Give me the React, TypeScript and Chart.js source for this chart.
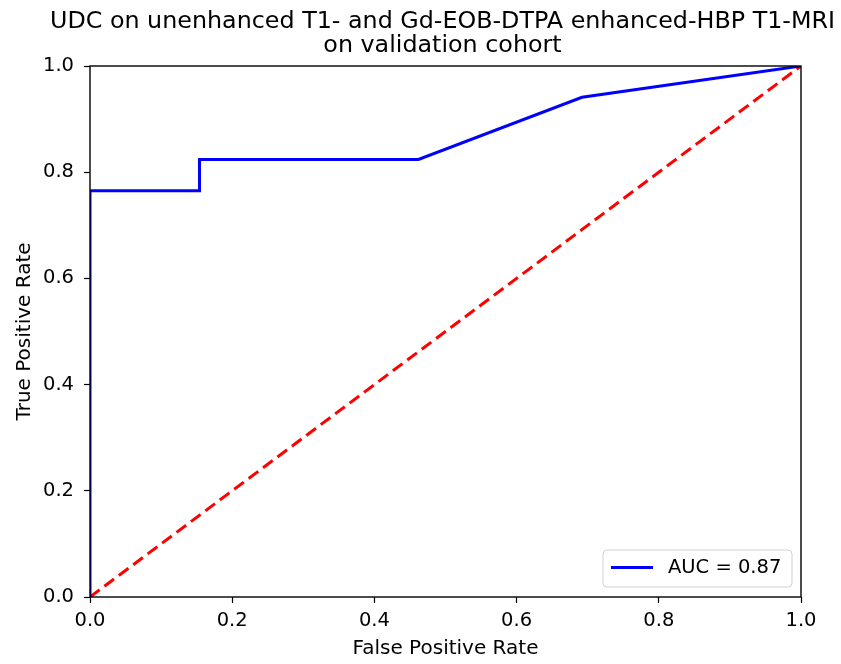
import React, { useEffect, useRef } from "react";
import { Chart, registerables } from "chart.js";

Chart.register(...registerables);

const rocFpr = [0, 0, 0.154, 0.154, 0.462, 0.692, 1.0];
const rocTpr = [0, 0.765, 0.765, 0.824, 0.824, 0.941, 1.0];
const chanceFpr = [0, 1];
const chanceTpr = [0, 1];
const tickValues = [0, 0.2, 0.4, 0.6, 0.8, 1.0];
const titleLines = ["UDC on unenhanced T1- and Gd-EOB-DTPA enhanced-HBP T1-MRI", "on validation cohort"];
const rocLabel = "AUC = 0.87";
const xTitle = "False Positive Rate";
const yTitle = "True Positive Rate";

const FONT = "'DejaVu Sans', sans-serif";

const framePlugin = {
  id: "frame",
  afterDatasetsDraw(chart: any) {
    const { ctx, chartArea: a } = chart;
    ctx.save();
    ctx.strokeStyle = "#000";
    ctx.lineWidth = 1.4;
    ctx.strokeRect(a.left, a.top, a.right - a.left, a.bottom - a.top);
    // title, centred over the plot area
    ctx.fillStyle = "#000";
    ctx.font = `23.8px ${FONT}`;
    ctx.textAlign = "center";
    ctx.textBaseline = "alphabetic";
    const cx = (a.left + a.right) / 2 - 3;
    ctx.fillText(titleLines[0], cx, 27.5);
    ctx.fillText(titleLines[1], cx, 52);
    // legend
    const ds = chart.data.datasets[0];
    const bx = 603, by = 550, bw = 189, bh = 37, r = 4;
    ctx.beginPath();
    ctx.moveTo(bx + r, by);
    ctx.lineTo(bx + bw - r, by);
    ctx.quadraticCurveTo(bx + bw, by, bx + bw, by + r);
    ctx.lineTo(bx + bw, by + bh - r);
    ctx.quadraticCurveTo(bx + bw, by + bh, bx + bw - r, by + bh);
    ctx.lineTo(bx + r, by + bh);
    ctx.quadraticCurveTo(bx, by + bh, bx, by + bh - r);
    ctx.lineTo(bx, by + r);
    ctx.quadraticCurveTo(bx, by, bx + r, by);
    ctx.closePath();
    ctx.fillStyle = "rgba(255,255,255,0.8)";
    ctx.fill();
    ctx.strokeStyle = "#d0d0d0";
    ctx.lineWidth = 1;
    ctx.stroke();
    ctx.beginPath();
    ctx.strokeStyle = ds.borderColor;
    ctx.lineWidth = ds.borderWidth;
    ctx.moveTo(611, 567.5);
    ctx.lineTo(653, 567.5);
    ctx.stroke();
    ctx.fillStyle = "#000";
    ctx.font = `19.5px ${FONT}`;
    ctx.textBaseline = "middle";
    ctx.textAlign = "left";
    ctx.fillText(ds.label, 668, 568);
    ctx.restore();
  },
};

export default function App() {
  const ref = useRef<HTMLCanvasElement>(null);
  useEffect(() => {
    document.body.style.margin = "0";
    const chart = new Chart(ref.current!, {
      type: "line",
      data: {
        datasets: [
          {
            label: rocLabel,
            data: rocFpr.map((x, i) => ({ x, y: rocTpr[i] })),
            borderColor: "#0000ff",
            borderWidth: 3,
            pointRadius: 0,
            fill: false,
            tension: 0,
          },
          {
            label: "chance",
            data: chanceFpr.map((x, i) => ({ x, y: chanceTpr[i] })),
            borderColor: "#ff0000",
            borderWidth: 3,
            borderDash: [12, 6],
            pointRadius: 0,
            fill: false,
          },
        ],
      },
      options: {
        responsive: false,
        animation: false,
        layout: { padding: { left: 0, right: 40, top: 66, bottom: 0 } },
        plugins: {
          legend: { display: false },
          tooltip: { enabled: false },
          title: { display: false },
        },
        scales: {
          x: {
            type: "linear",
            min: 0,
            max: 1,
            afterFit(s: any) { s.height = 67; },
            afterBuildTicks(s: any) { s.ticks = tickValues.map((v) => ({ value: v })); },
            grid: { drawOnChartArea: false, drawTicks: true, tickLength: 6, tickColor: "#000", tickWidth: 1.2 },
            border: { display: false },
            ticks: {
              color: "#000",
              padding: 6,
              maxRotation: 0,
              font: { family: FONT, size: 19.5 },
              callback: (v: any) => Number(v).toFixed(1),
            },
            title: {
              display: true,
              text: xTitle,
              color: "#000",
              font: { family: FONT, size: 20 },
              padding: { top: 0, bottom: 3 },
            },
          },
          y: {
            type: "linear",
            min: 0,
            max: 1,
            afterFit(s: any) { s.width = 90; },
            afterBuildTicks(s: any) { s.ticks = tickValues.map((v) => ({ value: v })); },
            grid: { drawOnChartArea: false, drawTicks: true, tickLength: 6, tickColor: "#000", tickWidth: 1.2 },
            border: { display: false },
            ticks: {
              color: "#000",
              padding: 10,
              font: { family: FONT, size: 19.5 },
              callback: (v: any) => Number(v).toFixed(1),
            },
            title: {
              display: true,
              text: yTitle,
              color: "#000",
              font: { family: FONT, size: 20 },
              padding: { top: 13, bottom: 0 },
            },
          },
        },
      },
      plugins: [framePlugin],
    });
    return () => chart.destroy();
  }, []);
  return (
    <div style={{ position: "absolute", left: 0, top: 0, width: 841, height: 664 }}>
      <canvas ref={ref} width={841} height={664} style={{ width: 841, height: 664 }} />
    </div>
  );
}
